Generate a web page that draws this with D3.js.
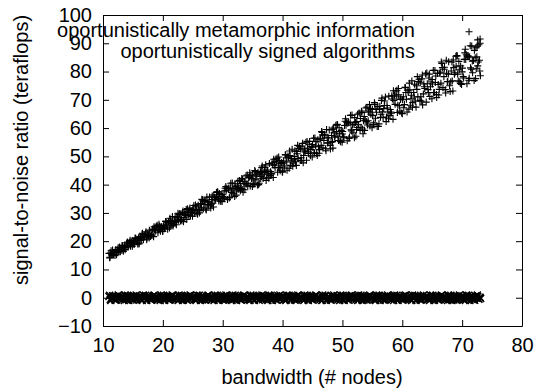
<!DOCTYPE html>
<html>
<head>
<meta charset="utf-8">
<script src="https://cdn.jsdelivr.net/npm/d3@7"></script>
<style>
  body { margin: 0; background: #fff; }
  svg text { font-family: "Liberation Sans", Arial, sans-serif; font-size: 20px; fill: #000; }
</style>
</head>
<body>
<script>
// tick values
const xTicks = [10, 20, 30, 40, 50, 60, 70, 80];
const yTicks = [-10, 0, 10, 20, 30, 40, 50, 60, 70, 80, 90, 100];

const seriesNames = ["oportunistically metamorphic information", "oportunistically signed algorithms"];

// [bandwidth, signal-to-noise]
const metamorphic = [
  [11.1,14.1],[11.25,15.8],[11.45,15.2],[11.6,16.9],[11.75,15.1],[11.9,16.1],
  [12.1,17.0],[12.25,15.2],[12.45,16.9],[12.6,16.4],[12.75,17.9],[12.9,16.3],
  [13.05,16.8],[13.25,18.4],[13.4,16.4],[13.6,18.3],[13.8,18.0],[13.95,19.4],
  [14.1,19.7],[14.3,18.4],[14.45,19.6],[14.6,18.2],[14.8,19.5],[14.9,18.2],
  [15.1,19.6],[15.25,19.0],[15.45,21.0],[15.65,20.7],[15.8,19.0],[15.95,21.2],
  [16.05,19.3],[16.25,21.6],[16.4,20.8],[16.6,22.8],[16.75,20.5],[16.9,21.8],
  [17.1,22.8],[17.3,20.5],[17.45,22.5],[17.6,21.9],[17.75,23.9],[17.95,21.7],
  [18.1,22.2],[18.25,24.3],[18.45,21.6],[18.6,24.0],[18.8,23.6],[18.9,25.3],
  [19.05,25.6],[19.25,24.0],[19.45,25.4],[19.6,23.5],[19.8,25.1],[19.95,23.5],
  [20.1,25.2],[20.3,24.4],[20.45,27.0],[20.65,26.5],[20.8,24.2],[20.95,27.0],
  [21.1,24.7],[21.25,27.3],[21.4,26.3],[21.6,28.7],[21.75,26.0],[21.9,27.4],
  [22.05,28.6],[22.25,25.8],[22.45,28.2],[22.6,27.4],[22.8,29.7],[22.95,27.1],
  [23.1,27.7],[23.3,30.1],[23.45,26.9],[23.65,29.7],[23.8,29.2],[23.9,31.2],
  [24.1,31.5],[24.25,29.5],[24.4,31.1],[24.6,28.9],[24.75,30.8],[24.95,28.8],
  [25.05,30.8],[25.25,29.8],[25.45,32.8],[25.6,32.2],[25.8,29.5],[25.9,32.7],
  [26.1,30.0],[26.3,33.1],[26.45,31.8],[26.6,34.7],[26.75,31.4],[26.9,33.0],
  [27.05,34.4],[27.25,31.0],[27.4,33.9],[27.6,32.9],[27.8,35.6],[27.95,32.5],
  [28.1,33.1],[28.25,36.0],[28.45,32.1],[28.65,35.4],[28.8,34.8],[28.95,37.2],
  [29.1,37.5],[29.3,35.0],[29.45,36.9],[29.6,34.2],[29.75,36.5],[29.9,34.0],
  [30.05,36.4],[30.25,35.2],[30.4,38.7],[30.6,38.0],[30.8,34.7],[30.95,38.5],
  [31.1,35.3],[31.25,38.8],[31.45,37.3],[31.6,40.6],[31.75,36.8],[31.9,38.7],
  [32.05,40.3],[32.25,36.3],[32.45,39.6],[32.6,38.4],[32.8,41.5],[32.95,37.8],
  [33.1,38.6],[33.3,41.9],[33.4,37.3],[33.6,41.1],[33.75,40.4],[33.9,43.1],
  [34.1,43.4],[34.25,40.5],[34.45,42.7],[34.6,39.5],[34.8,42.2],[34.95,39.3],
  [35.05,42.0],[35.25,40.5],[35.45,44.6],[35.6,43.7],[35.8,39.9],[35.9,44.3],
  [36.1,40.5],[36.3,44.6],[36.45,42.9],[36.6,46.6],[36.75,42.2],[36.95,44.3],
  [37.05,46.1],[37.25,41.5],[37.4,45.2],[37.6,43.8],[37.8,47.5],[37.95,43.2],
  [38.1,44.0],[38.25,47.7],[38.45,42.5],[38.6,46.9],[38.75,46.0],[38.9,49.1],
  [39.1,49.4],[39.3,46.1],[39.45,48.5],[39.6,44.9],[39.8,47.8],[39.95,44.5],
  [40.05,47.6],[40.25,45.9],[40.45,50.6],[40.6,49.5],[40.75,45.1],[40.9,50.1],
  [41.1,45.8],[41.25,50.3],[41.4,48.4],[41.6,52.5],[41.75,47.6],[41.95,50.0],
  [42.05,52.0],[42.3,46.8],[42.45,50.9],[42.6,49.3],[42.8,53.4],[42.95,48.5],
  [43.1,49.5],[43.25,53.6],[43.45,47.7],[43.6,52.6],[43.75,51.6],[43.9,55.0],
  [44.1,55.3],[44.3,51.6],[44.45,54.3],[44.65,50.2],[44.8,53.5],[44.95,49.8],
  [45.05,53.2],[45.25,51.2],[45.4,56.5],[45.6,55.2],[45.8,50.3],[45.9,55.9],
  [46.1,51.1],[46.25,56.1],[46.45,53.9],[46.6,58.5],[46.75,53.0],[46.9,55.6],
  [47.05,57.8],[47.25,52.0],[47.45,56.6],[47.6,54.8],[47.8,59.3],[47.95,53.9],
  [48.1,54.9],[48.3,59.5],[48.4,52.9],[48.6,58.3],[48.75,57.2],[48.9,61.0],
  [49.1,61.3],[49.25,57.1],[49.45,60.1],[49.6,55.5],[49.8,59.2],[49.95,55.0],
  [50.05,58.8],[50.25,56.6],[50.45,62.4],[50.6,61.0],[50.8,55.5],[50.9,61.7],
  [51.1,56.3],[51.3,61.9],[51.45,59.4],[51.6,64.6],[51.75,58.3],[51.95,61.3],
  [52.05,63.7],[52.25,57.1],[52.4,62.3],[52.6,60.2],[52.8,65.3],[52.95,59.2],
  [53.1,60.3],[53.25,65.5],[53.45,58.0],[53.65,64.1],[53.8,62.8],[53.9,67.1],
  [54.1,67.4],[54.3,62.6],[54.45,66.0],[54.6,60.7],[54.75,64.9],[54.95,60.1],
  [55.05,64.4],[55.25,61.9],[55.4,68.4],[55.6,66.8],[55.8,60.6],[55.9,67.6],
  [56.1,61.5],[56.25,67.7],[56.45,64.9],[56.6,70.6],[56.8,63.7],[56.9,66.9],
  [57.05,69.6],[57.3,62.3],[57.45,68.0],[57.6,65.7],[57.75,71.3],[57.95,64.5],
  [58.1,65.7],[58.25,71.4],[58.45,63.1],[58.6,69.8],[58.8,68.4],[58.95,73.1],
  [59.1,73.4],[59.25,68.1],[59.4,71.8],[59.6,66.0],[59.75,70.6],[59.9,65.3],
  [60.05,70.0],[60.25,67.2],[60.45,74.4],[60.6,72.6],[60.8,65.7],[60.95,73.4],
  [61.1,66.7],[61.25,73.5],[61.45,70.4],[61.6,76.7],[61.75,69.0],[61.9,72.6],
  [62.05,75.5],[62.3,67.4],[62.45,73.7],[62.6,71.1],[62.8,77.3],[62.95,69.8],
  [63.1,71.1],[63.25,77.4],[63.4,68.2],[63.6,75.6],[63.75,74.0],[63.9,79.2],
  [64.1,79.5],[64.3,73.6],[64.45,77.7],[64.6,71.2],[64.8,76.3],[64.95,70.4],
  [65.05,75.6],[65.25,72.5],[65.45,80.4],[65.6,78.4],[65.75,70.8],[65.9,79.3],
  [66.1,71.7],[66.25,79.4],[66.45,75.9],[66.6,82.9],[66.8,74.3],[66.95,78.2],
  [67.05,81.5],[67.25,72.4],[67.4,79.4],[67.6,76.5],[67.75,83.5],[67.9,75.0],
  [68.1,76.4],[68.3,83.4],[68.45,73.1],[68.6,81.4],[68.8,79.6],[68.95,85.4],
  [69.1,85.7],[69.25,79.1],[69.45,83.6],[69.6,76.4],[69.75,82.0],[69.9,75.4],
  [70.05,81.2],[70.25,77.7],[70.45,86.6],[70.6,84.3],[70.8,75.7],[70.95,85.2],
  [71.1,76.9],[71.25,85.2],[71.4,81.3],[71.6,89.0],[71.75,79.6],[71.9,83.9],
  [72.05,87.5],[72.25,77.5],[72.45,85.2],[72.6,82.0],[72.8,89.5],[72.95,80.2],
  [73.0,91.5],[72.9,84.0],[73.05,78.5],[71.15,94.1],[72.6,91.2],[73.0,90.0],[72.3,88.4],
  [11.0,15.7],[11.18,14.3],[11.35,16.6],[11.52,15.2],[11.7,15.9],
  [12.0,14.9],[12.18,16.6],[12.35,16.0],[12.52,17.7],[12.7,16.8],
  [13.0,17.6],[13.18,18.5],[13.35,16.8],[13.52,17.8],[13.7,17.0],
  [14.0,18.1],[14.18,17.9],[14.35,19.4],[14.52,20.3],[14.7,20.0],
  [15.0,20.2],[15.18,18.8],[15.35,21.1],[15.52,19.7],[15.7,20.4],
  [16.0,19.0],[16.18,21.1],[16.35,20.3],[16.52,22.5],[16.7,21.2],
  [17.0,22.2],[17.18,23.3],[17.35,21.1],[17.52,22.3],[17.7,21.1],
  [18.0,22.5],[18.18,22.1],[18.35,24.0],[18.52,25.1],[18.7,24.7],
  [19.0,24.9],[19.18,23.0],[19.35,26.0],[19.52,24.1],[19.7,25.0],
  [20.0,23.5],[20.18,25.6],[20.35,24.8],[20.52,27.0],[20.7,25.7],
  [21.0,26.8],[21.18,28.1],[21.35,25.4],[21.52,26.8],[21.7,25.4],
  [22.0,26.9],[22.18,26.5],[22.35,28.6],[22.52,29.9],[22.7,29.4],
  [23.0,29.4],[23.18,27.2],[23.35,30.7],[23.52,28.4],[23.7,29.4],
  [24.0,27.7],[24.18,30.2],[24.35,29.2],[24.52,31.7],[24.7,30.2],
  [25.0,31.3],[25.18,32.6],[25.35,29.9],[25.52,31.3],[25.7,29.9],
  [26.0,31.3],[26.18,30.8],[26.35,33.3],[26.52,34.8],[26.7,34.2],
  [27.0,34.1],[27.18,31.4],[27.35,35.6],[27.52,32.8],[27.7,33.9],
  [28.0,31.7],[28.18,34.7],[28.35,33.4],[28.52,36.4],[28.7,34.6],
  [29.0,35.9],[29.18,37.4],[29.35,34.2],[29.52,35.8],[29.7,34.1],
  [30.0,35.8],[30.18,35.3],[30.35,37.8],[30.52,39.3],[30.7,38.7],
  [31.0,38.8],[31.18,35.6],[31.35,40.5],[31.52,37.2],[31.7,38.5],
  [32.0,35.8],[32.18,39.3],[32.35,37.8],[32.52,41.2],[32.7,39.0],
  [33.0,40.4],[33.18,42.2],[33.35,38.3],[33.52,40.2],[33.7,38.2],
  [34.0,40.2],[34.18,39.6],[34.35,42.5],[34.52,44.2],[34.7,43.4],
  [35.0,43.3],[35.18,40.1],[35.35,45.0],[35.52,41.7],[35.7,43.0],
  [36.0,40.0],[36.18,43.8],[36.35,42.1],[36.52,46.0],[36.7,43.5],
  [37.0,45.1],[37.18,47.0],[37.35,42.6],[37.52,44.7],[37.7,42.3],
  [38.0,44.6],[38.18,43.8],[38.35,47.0],[38.52,49.0],[38.7,48.1],
  [39.0,48.0],[39.18,44.4],[39.35,49.8],[39.52,46.0],[39.7,47.5],
  [40.0,44.5],[40.18,48.3],[40.35,46.6],[40.52,50.5],[40.7,48.0],
  [41.0,49.7],[41.18,51.9],[41.35,46.8],[41.52,49.2],[41.7,46.5],
  [42.0,49.0],[42.18,48.1],[42.35,51.7],[42.52,53.9],[42.7,52.8],
  [43.0,52.6],[43.18,48.5],[43.35,54.6],[43.52,50.3],[43.7,52.0],
  [44.0,48.6],[44.18,52.9],[44.35,51.0],[44.52,55.3],[44.7,52.4],
  [45.0,54.2],[45.18,56.4],[45.35,51.3],[45.52,53.7],[45.7,51.0],
  [46.0,53.4],[46.18,52.4],[46.35,56.4],[46.52,58.8],[46.7,57.6],
  [47.0,57.3],[47.18,52.7],[47.35,59.5],[47.52,54.7],[47.7,56.5],
  [48.0,52.6],[48.18,57.4],[48.35,55.2],[48.52,60.0],[48.7,56.8],
  [49.0,58.8],[49.18,61.2],[49.35,55.6],[49.52,58.2],[49.7,55.2],
  [50.0,57.9],[50.18,56.9],[50.35,60.9],[50.52,63.3],[50.7,62.1],
  [51.0,62.1],[51.18,56.8],[51.35,64.5],[51.52,59.0],[51.7,61.1],
  [52.0,56.6],[52.18,62.0],[52.35,59.5],[52.52,64.9],[52.7,61.2],
  [53.0,63.4],[53.18,66.0],[53.35,59.7],[53.52,62.6],[53.7,59.2],
  [54.0,62.3],[54.18,61.1],[54.35,65.6],[54.52,68.3],[54.7,66.9],
  [55.0,66.6],[55.18,61.3],[55.35,69.0],[55.52,63.5],[55.7,65.6],
  [56.0,60.6],[56.18,66.6],[56.35,63.8],[56.52,69.8],[56.7,65.7],
  [57.0,68.0],[57.18,71.0],[57.35,63.9],[57.52,67.1],[57.7,63.3],
  [58.0,66.6],[58.18,65.3],[58.35,70.3],[58.52,73.2],[58.7,71.7],
  [59.0,71.3],[59.18,65.5],[59.35,74.0],[59.52,67.9],[59.7,70.1],
  [60.0,65.1],[60.18,71.1],[60.35,68.3],[60.52,74.3],[60.7,70.2],
  [61.0,72.7],[61.18,75.9],[61.35,68.1],[61.52,71.6],[61.7,67.4],
  [62.0,71.0],[62.18,69.5],[62.35,75.0],[62.52,78.2],[62.7,76.5],
  [63.0,76.0],[63.18,69.5],[63.35,78.8],[63.52,72.1],[63.7,74.6],
  [64.0,69.2],[64.18,75.7],[64.35,72.6],[64.52,79.1],[64.7,74.6],
  [65.0,77.2],[65.18,80.4],[65.35,72.6],[65.52,76.1],[65.7,71.9],
  [66.0,75.4],[66.18,73.7],[66.35,79.8],[66.52,83.4],[66.7,81.4],
  [67.0,80.8],[67.18,73.6],[67.35,84.0],[67.52,76.4],[67.7,79.1],
  [68.0,72.9],[68.18,80.2],[68.35,76.7],[68.52,84.1],[68.7,79.0],
  [69.0,81.9],[69.18,85.5],[69.35,76.7],[69.52,80.6],[69.7,75.8],
  [70.0,79.9],[70.18,78.2],[70.35,84.3],[70.52,87.9],[70.7,85.9],
  [71.0,85.6],[71.18,77.6],[71.35,89.1],[71.52,80.8],[71.7,83.7],
  [72.0,76.8],[72.18,84.9],[72.35,81.0],[72.52,89.0],[72.7,83.4]
];

const signedAlgorithms = [
  [11.0,0.4],[11.2,-0.6],[11.45,0.1],[11.6,0.7],[11.85,-0.3],
  [12.05,0.5],[12.2,-0.8],[12.4,0.2],[12.65,-0.2],[12.8,0.6],
  [13.0,-0.5],[13.25,0.3],[13.4,-0.1],[13.6,0.8],[13.85,-0.7],
  [14.1,0.0],[14.25,0.6],[14.45,-0.4],[14.7,0.3],[14.9,-0.6],
  [15.05,0.7],[15.3,-0.2],[15.5,0.4],[15.65,-0.8],[15.85,0.1],
  [16.0,-0.3],[16.2,0.5],[16.4,-0.6],[16.6,0.2],[16.8,0.8],
  [17.05,-0.1],[17.25,-0.7],[17.45,0.6],[17.65,0.0],[17.85,-0.4],
  [18.0,0.3],[18.2,-0.5],[18.45,0.7],[18.6,-0.2],[18.8,0.5],
  [19.05,-0.8],[19.2,0.1],[19.4,0.6],[19.65,-0.4],[19.9,0.2],
  [20.1,-0.6],[20.3,0.4],[20.45,-0.1],[20.7,0.8],[20.85,-0.3],
  [21.0,0.5],[21.2,-0.7],[21.4,0.0],[21.6,0.6],[21.8,-0.5],
  [22.05,0.2],[22.25,-0.2],[22.5,0.7],[22.7,-0.6],[22.9,0.3],
  [23.1,-0.4],[23.3,0.5],[23.45,-0.8],[23.65,0.1],[23.85,0.6],
  [24.0,-0.1],[24.2,0.4],[24.4,-0.5],[24.6,0.8],[24.8,-0.3],
  [25.05,0.0],[25.25,0.6],[25.45,-0.7],[25.65,0.3],[25.85,-0.2],
  [26.0,0.7],[26.2,-0.4],[26.4,0.2],[26.6,-0.8],[26.8,0.5],
  [27.05,-0.2],[27.3,0.1],[27.5,0.6],[27.7,-0.5],[27.9,0.3],
  [28.1,-0.7],[28.3,0.4],[28.45,0.0],[28.65,0.7],[28.85,-0.4],
  [29.0,0.2],[29.2,-0.6],[29.4,0.5],[29.6,-0.1],[29.8,0.8],
  [30.05,-0.3],[30.25,0.3],[30.45,-0.8],[30.65,0.6],[30.85,0.0],
  [31.0,-0.5],[31.2,0.7],[31.4,-0.2],[31.6,0.4],[31.8,-0.6],
  [32.05,0.1],[32.25,-0.4],[32.5,0.8],[32.7,-0.1],[32.9,0.5],
  [33.1,-0.7],[33.3,0.2],[33.5,-0.3],[33.7,0.6],[33.9,-0.5],
  [34.05,0.4],[34.25,0.0],[34.45,-0.6],[34.65,0.7],[34.85,-0.2],
  [35.0,0.3],[35.2,-0.8],[35.4,0.5],[35.6,-0.4],[35.8,0.1],
  [36.05,0.6],[36.25,-0.3],[36.45,0.2],[36.65,-0.7],[36.85,0.8],
  [37.0,-0.1],[37.2,0.4],[37.4,-0.5],[37.6,0.0],[37.8,0.7],
  [38.05,-0.6],[38.3,0.3],[38.5,-0.2],[38.7,0.5],[38.9,-0.8],
  [39.1,0.1],[39.3,0.6],[39.45,-0.4],[39.65,0.2],[39.85,-0.1],
  [40.0,0.7],[40.2,-0.5],[40.4,0.3],[40.6,-0.7],[40.8,0.4],
  [41.05,-0.2],[41.25,0.5],[41.45,-0.6],[41.65,0.1],[41.85,0.8],
  [42.0,-0.4],[42.2,0.2],[42.4,-0.8],[42.6,0.6],[42.8,-0.1],
  [43.05,0.4],[43.3,-0.3],[43.5,0.7],[43.7,-0.5],[43.9,0.0],
  [44.1,0.5],[44.3,-0.7],[44.45,0.2],[44.65,-0.2],[44.85,0.6],
  [45.0,-0.5],[45.2,0.3],[45.4,-0.1],[45.6,0.8],[45.8,-0.6],
  [46.05,0.1],[46.25,-0.4],[46.45,0.6],[46.65,-0.8],[46.85,0.3],
  [47.0,-0.2],[47.2,0.7],[47.4,-0.5],[47.6,0.4],[47.8,0.0],
  [48.05,-0.7],[48.3,0.5],[48.5,-0.3],[48.7,0.2],[48.9,-0.6],
  [49.1,0.8],[49.3,-0.1],[49.5,0.3],[49.7,-0.4],[49.9,0.6],
  [50.05,-0.8],[50.25,0.1],[50.45,0.6],[50.65,-0.2],[50.85,0.4],
  [51.0,-0.5],[51.2,0.7],[51.4,-0.3],[51.6,0.2],[51.8,-0.7],
  [52.05,0.5],[52.25,-0.1],[52.45,0.8],[52.65,-0.6],[52.85,0.0],
  [53.0,0.3],[53.2,-0.4],[53.4,0.6],[53.6,-0.8],[53.8,0.2],
  [54.05,-0.2],[54.3,0.5],[54.5,-0.6],[54.7,0.7],[54.9,-0.3],
  [55.1,0.1],[55.3,-0.7],[55.45,0.4],[55.65,-0.1],[55.85,0.6],
  [56.0,-0.4],[56.2,0.8],[56.4,-0.2],[56.6,0.3],[56.8,-0.8],
  [57.05,0.6],[57.25,-0.5],[57.45,0.0],[57.65,0.5],[57.85,-0.3],
  [58.0,0.2],[58.2,-0.6],[58.4,0.7],[58.6,-0.1],[58.8,0.4],
  [59.05,-0.7],[59.3,0.3],[59.5,-0.4],[59.7,0.6],[59.9,0.0],
  [60.1,-0.5],[60.3,0.8],[60.45,-0.2],[60.65,0.1],[60.85,-0.6],
  [61.0,0.5],[61.2,-0.3],[61.4,0.7],[61.6,-0.8],[61.8,0.2],
  [62.05,-0.1],[62.25,0.4],[62.45,-0.5],[62.65,0.6],[62.85,-0.2],
  [63.0,0.3],[63.2,-0.7],[63.4,0.5],[63.6,0.0],[63.8,-0.4],
  [64.05,0.8],[64.25,-0.2],[64.45,0.2],[64.65,-0.6],[64.85,0.6],
  [65.0,-0.3],[65.2,0.4],[65.4,-0.8],[65.6,0.7],[65.8,-0.1],
  [66.05,0.1],[66.3,-0.5],[66.5,0.6],[66.7,-0.3],[66.9,0.5],
  [67.1,-0.6],[67.3,0.2],[67.45,-0.1],[67.65,0.8],[67.85,-0.7],
  [68.0,0.4],[68.2,-0.4],[68.4,0.1],[68.6,-0.8],[68.8,0.7],
  [69.05,-0.2],[69.25,0.5],[69.45,-0.5],[69.65,0.3],[69.85,-0.1],
  [70.0,0.6],[70.2,-0.7],[70.4,0.2],[70.6,-0.3],[70.8,0.8],
  [71.05,-0.4],[71.25,0.0],[71.45,0.5],[71.65,-0.6],[71.85,0.3],
  [72.0,-0.8],[72.2,0.6],[72.4,-0.2],[72.6,0.4],[72.8,-0.5],
  [73.0,0.1],[73.1,-0.3],
  [11.1,0.9],[11.3,-1.0],[11.55,-0.2],[11.7,0.6],[11.95,-0.7],
  [12.1,-0.9],[12.3,0.5],[12.55,1.0],[12.7,-0.4],[12.95,0.2],
  [13.1,0.3],[13.3,-0.6],[13.55,-1.0],[13.7,0.95],[13.95,-0.1],
  [14.1,0.9],[14.3,-1.0],[14.55,-0.2],[14.7,0.6],[14.95,-0.7],
  [15.1,-0.9],[15.3,0.5],[15.55,1.0],[15.7,-0.4],[15.95,0.2],
  [16.1,0.3],[16.3,-0.6],[16.55,-1.0],[16.7,0.95],[16.95,-0.1],
  [17.1,0.9],[17.3,-1.0],[17.55,-0.2],[17.7,0.6],[17.95,-0.7],
  [18.1,-0.9],[18.3,0.5],[18.55,1.0],[18.7,-0.4],[18.95,0.2],
  [19.1,0.3],[19.3,-0.6],[19.55,-1.0],[19.7,0.95],[19.95,-0.1],
  [20.1,0.9],[20.3,-1.0],[20.55,-0.2],[20.7,0.6],[20.95,-0.7],
  [21.1,-0.9],[21.3,0.5],[21.55,1.0],[21.7,-0.4],[21.95,0.2],
  [22.1,0.3],[22.3,-0.6],[22.55,-1.0],[22.7,0.95],[22.95,-0.1],
  [23.1,0.9],[23.3,-1.0],[23.55,-0.2],[23.7,0.6],[23.95,-0.7],
  [24.1,-0.9],[24.3,0.5],[24.55,1.0],[24.7,-0.4],[24.95,0.2],
  [25.1,0.3],[25.3,-0.6],[25.55,-1.0],[25.7,0.95],[25.95,-0.1],
  [26.1,0.9],[26.3,-1.0],[26.55,-0.2],[26.7,0.6],[26.95,-0.7],
  [27.1,-0.9],[27.3,0.5],[27.55,1.0],[27.7,-0.4],[27.95,0.2],
  [28.1,0.3],[28.3,-0.6],[28.55,-1.0],[28.7,0.95],[28.95,-0.1],
  [29.1,0.9],[29.3,-1.0],[29.55,-0.2],[29.7,0.6],[29.95,-0.7],
  [30.1,-0.9],[30.3,0.5],[30.55,1.0],[30.7,-0.4],[30.95,0.2],
  [31.1,0.3],[31.3,-0.6],[31.55,-1.0],[31.7,0.95],[31.95,-0.1],
  [32.1,0.9],[32.3,-1.0],[32.55,-0.2],[32.7,0.6],[32.95,-0.7],
  [33.1,-0.9],[33.3,0.5],[33.55,1.0],[33.7,-0.4],[33.95,0.2],
  [34.1,0.3],[34.3,-0.6],[34.55,-1.0],[34.7,0.95],[34.95,-0.1],
  [35.1,0.9],[35.3,-1.0],[35.55,-0.2],[35.7,0.6],[35.95,-0.7],
  [36.1,-0.9],[36.3,0.5],[36.55,1.0],[36.7,-0.4],[36.95,0.2],
  [37.1,0.3],[37.3,-0.6],[37.55,-1.0],[37.7,0.95],[37.95,-0.1],
  [38.1,0.9],[38.3,-1.0],[38.55,-0.2],[38.7,0.6],[38.95,-0.7],
  [39.1,-0.9],[39.3,0.5],[39.55,1.0],[39.7,-0.4],[39.95,0.2],
  [40.1,0.3],[40.3,-0.6],[40.55,-1.0],[40.7,0.95],[40.95,-0.1],
  [41.1,0.9],[41.3,-1.0],[41.55,-0.2],[41.7,0.6],[41.95,-0.7],
  [42.1,-0.9],[42.3,0.5],[42.55,1.0],[42.7,-0.4],[42.95,0.2],
  [43.1,0.3],[43.3,-0.6],[43.55,-1.0],[43.7,0.95],[43.95,-0.1],
  [44.1,0.9],[44.3,-1.0],[44.55,-0.2],[44.7,0.6],[44.95,-0.7],
  [45.1,-0.9],[45.3,0.5],[45.55,1.0],[45.7,-0.4],[45.95,0.2],
  [46.1,0.3],[46.3,-0.6],[46.55,-1.0],[46.7,0.95],[46.95,-0.1],
  [47.1,0.9],[47.3,-1.0],[47.55,-0.2],[47.7,0.6],[47.95,-0.7],
  [48.1,-0.9],[48.3,0.5],[48.55,1.0],[48.7,-0.4],[48.95,0.2],
  [49.1,0.3],[49.3,-0.6],[49.55,-1.0],[49.7,0.95],[49.95,-0.1],
  [50.1,0.9],[50.3,-1.0],[50.55,-0.2],[50.7,0.6],[50.95,-0.7],
  [51.1,-0.9],[51.3,0.5],[51.55,1.0],[51.7,-0.4],[51.95,0.2],
  [52.1,0.3],[52.3,-0.6],[52.55,-1.0],[52.7,0.95],[52.95,-0.1],
  [53.1,0.9],[53.3,-1.0],[53.55,-0.2],[53.7,0.6],[53.95,-0.7],
  [54.1,-0.9],[54.3,0.5],[54.55,1.0],[54.7,-0.4],[54.95,0.2],
  [55.1,0.3],[55.3,-0.6],[55.55,-1.0],[55.7,0.95],[55.95,-0.1],
  [56.1,0.9],[56.3,-1.0],[56.55,-0.2],[56.7,0.6],[56.95,-0.7],
  [57.1,-0.9],[57.3,0.5],[57.55,1.0],[57.7,-0.4],[57.95,0.2],
  [58.1,0.3],[58.3,-0.6],[58.55,-1.0],[58.7,0.95],[58.95,-0.1],
  [59.1,0.9],[59.3,-1.0],[59.55,-0.2],[59.7,0.6],[59.95,-0.7],
  [60.1,-0.9],[60.3,0.5],[60.55,1.0],[60.7,-0.4],[60.95,0.2],
  [61.1,0.3],[61.3,-0.6],[61.55,-1.0],[61.7,0.95],[61.95,-0.1],
  [62.1,0.9],[62.3,-1.0],[62.55,-0.2],[62.7,0.6],[62.95,-0.7],
  [63.1,-0.9],[63.3,0.5],[63.55,1.0],[63.7,-0.4],[63.95,0.2],
  [64.1,0.3],[64.3,-0.6],[64.55,-1.0],[64.7,0.95],[64.95,-0.1],
  [65.1,0.9],[65.3,-1.0],[65.55,-0.2],[65.7,0.6],[65.95,-0.7],
  [66.1,-0.9],[66.3,0.5],[66.55,1.0],[66.7,-0.4],[66.95,0.2],
  [67.1,0.3],[67.3,-0.6],[67.55,-1.0],[67.7,0.95],[67.95,-0.1],
  [68.1,0.9],[68.3,-1.0],[68.55,-0.2],[68.7,0.6],[68.95,-0.7],
  [69.1,-0.9],[69.3,0.5],[69.55,1.0],[69.7,-0.4],[69.95,0.2],
  [70.1,0.3],[70.3,-0.6],[70.55,-1.0],[70.7,0.95],[70.95,-0.1],
  [71.1,0.9],[71.3,-1.0],[71.55,-0.2],[71.7,0.6],[71.95,-0.7],
  [72.1,-0.9],[72.3,0.5],[72.55,1.0],[72.7,-0.4],[72.95,0.2]
];

const width = 536, height = 392;
const margin = {top: 15, right: 14, bottom: 66, left: 103};
const w = width - margin.left - margin.right;
const h = height - margin.top - margin.bottom;

const svg = d3.select("body")
  .append("svg")
    .attr("width", width)
    .attr("height", height);

const g = svg.append("g")
  .attr("transform", "translate(" + margin.left + "," + margin.top + ")");

const x = d3.scaleLinear().domain([10, 80]).range([0, w]);
const y = d3.scaleLinear().domain([-10, 100]).range([h, 0]);

// axes, ticks point inward on all four sides
const axisStyle = function(sel) {
  sel.selectAll("path, line").attr("stroke", "#000").attr("stroke-width", 1);
  sel.selectAll("text").attr("font-size", null).attr("font-family", null);
};

g.append("g")
  .attr("transform", "translate(0," + h + ")")
  .call(d3.axisBottom(x).tickValues(xTicks).tickSize(-6).tickSizeOuter(0).tickPadding(12))
  .call(axisStyle);

g.append("g")
  .call(d3.axisLeft(y).tickValues(yTicks).tickSize(-6).tickSizeOuter(0).tickPadding(11))
  .call(axisStyle);

g.append("g")
  .call(d3.axisTop(x).tickValues(xTicks).tickSize(-6).tickSizeOuter(0).tickFormat(""))
  .call(axisStyle);

g.append("g")
  .attr("transform", "translate(" + w + ",0)")
  .call(d3.axisRight(y).tickValues(yTicks).tickSize(-6).tickSizeOuter(0).tickFormat(""))
  .call(axisStyle);

// markers
const plus = "M-3.5,0H3.5M0,-3.5V3.5";
const cross = "M-3.5,-3.5L3.5,3.5M-3.5,3.5L3.5,-3.5";

g.append("g")
  .selectAll("path")
  .data(signedAlgorithms)
  .enter()
    .append("path")
      .attr("d", cross)
      .attr("transform", function(d) { return "translate(" + x(d[0]) + "," + y(d[1]) + ")"; })
      .attr("stroke", "#000")
      .attr("stroke-width", 1.4)
      .attr("fill", "none");

g.append("g")
  .selectAll("path")
  .data(metamorphic)
  .enter()
    .append("path")
      .attr("d", plus)
      .attr("transform", function(d) { return "translate(" + x(d[0]) + "," + y(d[1]) + ")"; })
      .attr("stroke", "#000")
      .attr("stroke-width", 1.1)
      .attr("fill", "none");

// key, right aligned text only
g.append("g")
  .selectAll("text")
  .data(seriesNames)
  .enter()
    .append("text")
      .attr("x", 312)
      .attr("y", function(d, i) { return 22 + i * 21; })
      .attr("text-anchor", "end")
      .text(function(d) { return d; });

// axis titles
svg.append("text")
  .attr("x", 312)
  .attr("y", 384)
  .attr("text-anchor", "middle")
  .text("bandwidth (# nodes)");

svg.append("text")
  .attr("transform", "translate(28,150) rotate(-90)")
  .attr("text-anchor", "middle")
  .text("signal-to-noise ratio (teraflops)");
</script>
</body>
</html>
